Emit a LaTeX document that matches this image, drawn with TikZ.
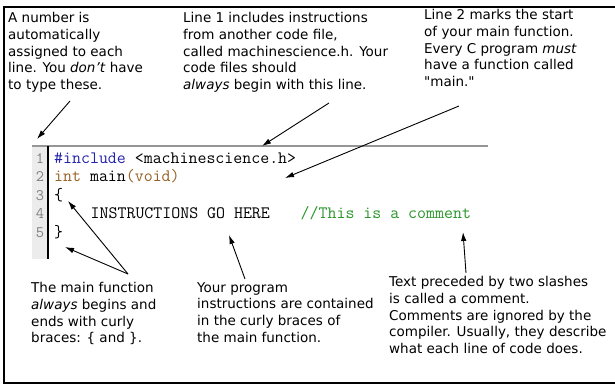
\documentclass[tikz,border=0pt]{standalone}
\usepackage{fontspec}
\setmainfont{DejaVu Sans}
\usetikzlibrary{arrows.meta}
\definecolor{kwblue}{RGB}{35,35,170}
\definecolor{kwbrown}{RGB}{150,95,35}
\definecolor{cmtgreen}{RGB}{40,150,40}
\definecolor{guttergray}{RGB}{236,236,236}
\definecolor{rulegray}{RGB}{150,150,150}
\tikzset{
  notetext/.style={anchor=north west,inner sep=0pt,align=left,font=\fontsize{13.5}{16.8}\selectfont},
  codeline/.style={anchor=base west,inner sep=0pt,font=\fontsize{17.4}{18.5}\ttfamily},
  lnum/.style={anchor=base,inner sep=0pt,text=gray,font=\fontsize{16}{18}\ttfamily},
  callout/.style={draw=black,line width=0.9pt,-{Latex[length=9pt,width=5.5pt]}},
}
\begin{document}
\begin{tikzpicture}[x=1pt,y=-1pt]
\useasboundingbox (0,0) rectangle (615,386);
%%% frame
\draw[line width=1.5pt] (640,7) -- (4,7) -- (4,383) -- (640,383);
%%% code listing
\fill[guttergray] (32,146) rectangle (48,259);
\draw[rulegray,line width=1.3pt] (32,146) -- (488,146);
\draw[line width=1.3pt] (48,146) -- (48,259);
\node[lnum] (n1) at (40,163) {1};
\node[lnum] (n2) at (40,181.5) {2};
\node[lnum] (n3) at (40,200) {3};
\node[lnum] (n4) at (40,218.5) {4};
\node[lnum] (n5) at (40,237) {5};
\node[codeline] (c1) at (54,163) {\textcolor{kwblue}{\#include} <machinescience.h>};
\node[codeline] (c2) at (54,181.5) {\textcolor{kwbrown}{int} main\textcolor{kwbrown}{(void)}};
\node[codeline] (c3) at (54,200) {\{};
\node[codeline] (c4) at (90.5,218.5) {INSTRUCTIONS GO HERE};
\node[codeline,text=cmtgreen] (cmt) at (300.5,218.5) {//This is a comment};
\node[codeline] (c5) at (54,237) {\}};
%%% notes on top
\node[notetext] (numnote) at (8,12) {A number is\\automatically\\assigned to each\\line. You \emph{don't} have\\to type these.};
\node[notetext] (incnote) at (183,12) {Line 1 includes instructions\\from another code file,\\called machinescience.h. Your\\code files should\\\emph{always} begin with this line.};
\node[notetext] (mainnote) at (424,9) {Line 2 marks the start\\of your main function.\\Every C program \emph{must}\\have a function called\\\textquotedbl main.\textquotedbl};
%%% notes below
\node[notetext] (bracenote) at (31,282) {The main function\\\emph{always} begins and\\ends with curly\\braces: \{ and \}.};
\node[notetext] (bodynote) at (197,282) {Your program\\instructions are contained\\in the curly braces of\\the main function.};
\node[notetext] (cmtnote) at (389,276) {Text preceded by two slashes\\is called a comment.\\Comments are ignored by the\\compiler. Usually, they describe\\what each line of code does.};
%%% arrow ends
\coordinate (numtail) at (70,101);
\coordinate (numtip) at (37,139);
\coordinate (inctail) at (329,103);
\coordinate (inctip) at (262,146);
\coordinate (maintail) at (459,106);
\coordinate (maintip) at (285,178);
\coordinate (bracetail) at (128,274);
\coordinate (opentip) at (68,201);
\coordinate (closetip) at (65,247);
\coordinate (bodytail) at (245,279);
\coordinate (bodytip) at (229,235);
\coordinate (cmttail) at (466,273);
\coordinate (cmttip) at (463,232);
%%% arrows
\draw[callout] (numtail) -- (numtip);
\draw[callout] (inctail) -- (inctip);
\draw[callout] (maintail) -- (maintip);
\draw[callout] (bracetail) -- (opentip);
\draw[callout] (bracetail) -- (closetip);
\draw[callout] (bodytail) -- (bodytip);
\draw[callout] (cmttail) -- (cmttip);
\end{tikzpicture}
\end{document}
